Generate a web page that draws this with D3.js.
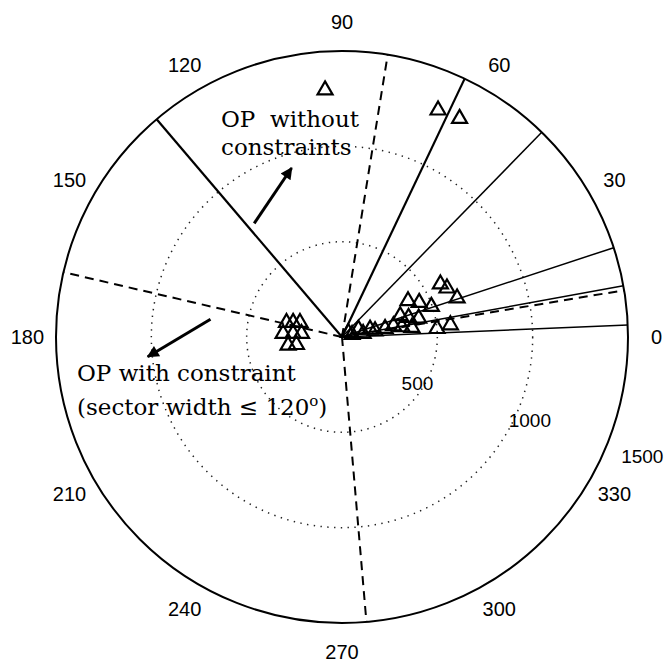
<!DOCTYPE html>
<html>
<head>
<meta charset="utf-8">
<script src="https://cdn.jsdelivr.net/npm/d3@7"></script>
<style>
  body { margin: 0; background: #fff; }
</style>
</head>
<body>
<div id="chart"></div>
<script>
/*
*    polar plot - operating points and sector boundaries
*/

// ---- data ----
const rMax = 1500;
const ringValues = [500, 1000, 1500];
const angleTicks = [0, 30, 60, 90, 120, 150, 180, 210, 240, 270, 300, 330];

// sector edges (degrees)
const solidAngles = [2.4, 10.3, 18.2, 45.7, 64.6, 130.4];   // OP without constraints
const dashedAngles = [9.4, 80.8, 166.9, 274.9];            // OP with constraint

// operating points: angle (deg) and radius
const pointTheta = [93.9, 67.2, 61.9,
    163.9, 161.8, 159.1, 175.1, 174.1, 172.9, 187.1, 187.5,
    29.0, 25.7, 19.4, 29.8, 25.1, 19.8, 21.4, 17.6, 14.9, 13.9, 11.1,
    9.0, 6.0, 7.2, 18.4, 13.1, 29.7, 43.6, 21.8, 13.4, 13.1];
const pointRadius = [1307, 1300, 1309,
    303, 270, 236, 310, 258, 214, 285, 241,
    590, 611, 640, 399, 447, 498, 328, 366, 416, 278, 320,
    371, 501, 573, 155, 178, 99, 46, 57, 114, 232];

// annotation arrows: [r, theta] tail -> head
const arrowTails = [[753, 127.7], [696, 172.3]];
const arrowHeads = [[925, 106.6], [1024, 185.8]];

polarChart("#chart");

function polarChart(container) {

    const width = 668;
    const height = 662;
    const cx = 342;
    const cy = 337;
    const radius = 286;

    const svg = d3.select(container)
        .append("svg")
        .attr("width", width)
        .attr("height", height)
        .style("background", "#fff");

    const r = d3.scaleLinear().domain([0, rMax]).range([0, radius]);

    // polar -> screen
    const pt = (val, deg) => {
        const a = deg * Math.PI / 180;
        return [cx + r(val) * Math.cos(a), cy - r(val) * Math.sin(a)];
    };

    const g = svg.append("g");

    // dotted rings
    g.selectAll(".ring")
        .data(ringValues.slice(0, -1))
        .enter()
        .append("circle")
        .attr("cx", cx)
        .attr("cy", cy)
        .attr("r", d => r(d))
        .attr("fill", "none")
        .attr("stroke", "#222")
        .attr("stroke-width", 1.5)
        .attr("stroke-dasharray", "1.4,5.4");

    // outer ring
    g.append("circle")
        .attr("cx", cx)
        .attr("cy", cy)
        .attr("r", r(rMax))
        .attr("fill", "none")
        .attr("stroke", "#000")
        .attr("stroke-width", 2);

    // solid sector edges
    g.selectAll(".solid")
        .data(solidAngles)
        .enter()
        .append("line")
        .attr("x1", cx)
        .attr("y1", cy)
        .attr("x2", d => pt(rMax, d)[0])
        .attr("y2", d => pt(rMax, d)[1])
        .attr("stroke", "#000")
        .attr("stroke-width", d => (d > 60 ? 2.2 : 1.5));

    // dashed sector edges
    g.selectAll(".dashed")
        .data(dashedAngles)
        .enter()
        .append("line")
        .attr("x1", cx)
        .attr("y1", cy)
        .attr("x2", d => pt(rMax, d)[0])
        .attr("y2", d => pt(rMax, d)[1])
        .attr("stroke", "#000")
        .attr("stroke-width", 2)
        .attr("stroke-dasharray", "9,6");

    // triangles
    const tri = "M0,-7L7.5,6L-7.5,6Z";
    g.selectAll(".pt")
        .data(pointTheta.map((t, i) => ({ theta: t, r: pointRadius[i] })))
        .enter()
        .append("path")
        .attr("d", tri)
        .attr("transform", d => `translate(${pt(d.r, d.theta)[0]},${pt(d.r, d.theta)[1]})`)
        .attr("fill", "none")
        .attr("stroke", "#000")
        .attr("stroke-width", 2.2)
        .attr("stroke-linejoin", "miter");

    // angle labels
    g.selectAll(".alabel")
        .data(angleTicks)
        .enter()
        .append("text")
        .attr("x", d => pt(rMax * 1.1, d)[0])
        .attr("y", d => pt(rMax * 1.1, d)[1])
        .attr("text-anchor", "middle")
        .attr("dominant-baseline", "central")
        .style("font-family", "'Liberation Sans', Arial, sans-serif")
        .style("font-size", "20px")
        .style("fill", "#000")
        .text(d => d);

    // radial labels (placed along a slanted line below the 0 axis)
    g.selectAll(".rlabel")
        .data(ringValues)
        .enter()
        .append("text")
        .attr("x", d => pt(d * 1.24, -18)[0] - 37)
        .attr("y", d => pt(d * 1.24, -18)[1] + 10)
        .attr("text-anchor", "middle")
        .attr("dominant-baseline", "central")
        .style("font-family", "'Liberation Sans', Arial, sans-serif")
        .style("font-size", "19px")
        .style("fill", "#000")
        .text(d => d);

    // arrows
    svg.append("defs").append("marker")
        .attr("id", "head")
        .attr("viewBox", "0 0 10 10")
        .attr("refX", 9)
        .attr("refY", 5)
        .attr("markerWidth", 5.5)
        .attr("markerHeight", 4)
        .attr("markerUnits", "strokeWidth")
        .attr("orient", "auto")
        .append("path")
        .attr("d", "M0,0L10,5L0,10Z")
        .attr("fill", "#000");

    g.selectAll(".arrow")
        .data(arrowTails.map((t, i) => ({ from: t, to: arrowHeads[i] })))
        .enter()
        .append("line")
        .attr("x1", d => pt(d.from[0], d.from[1])[0])
        .attr("y1", d => pt(d.from[0], d.from[1])[1])
        .attr("x2", d => pt(d.to[0], d.to[1])[0])
        .attr("y2", d => pt(d.to[0], d.to[1])[1])
        .attr("stroke", "#000")
        .attr("stroke-width", 3)
        .attr("marker-end", "url(#head)");

    // annotation text
    const note = g.append("g")
        .style("font-family", "'DejaVu Serif', serif")
        .style("font-size", "23px")
        .style("fill", "#000");

    note.append("text").attr("x", 221).attr("y", 127)
        .style("white-space", "pre").text("OP\u00a0\u00a0without");
    note.append("text").attr("x", 221).attr("y", 155).text("constraints");
    note.append("text").attr("x", 77).attr("y", 381).text("OP with constraint");

    const t4 = note.append("text").attr("x", 77).attr("y", 415);
    t4.append("tspan").text("(sector width \u2264 120");
    t4.append("tspan").attr("dy", -9).style("font-size", "15px").text("o");
    t4.append("tspan").attr("dy", 9).text(")");
}
</script>
</body>
</html>
